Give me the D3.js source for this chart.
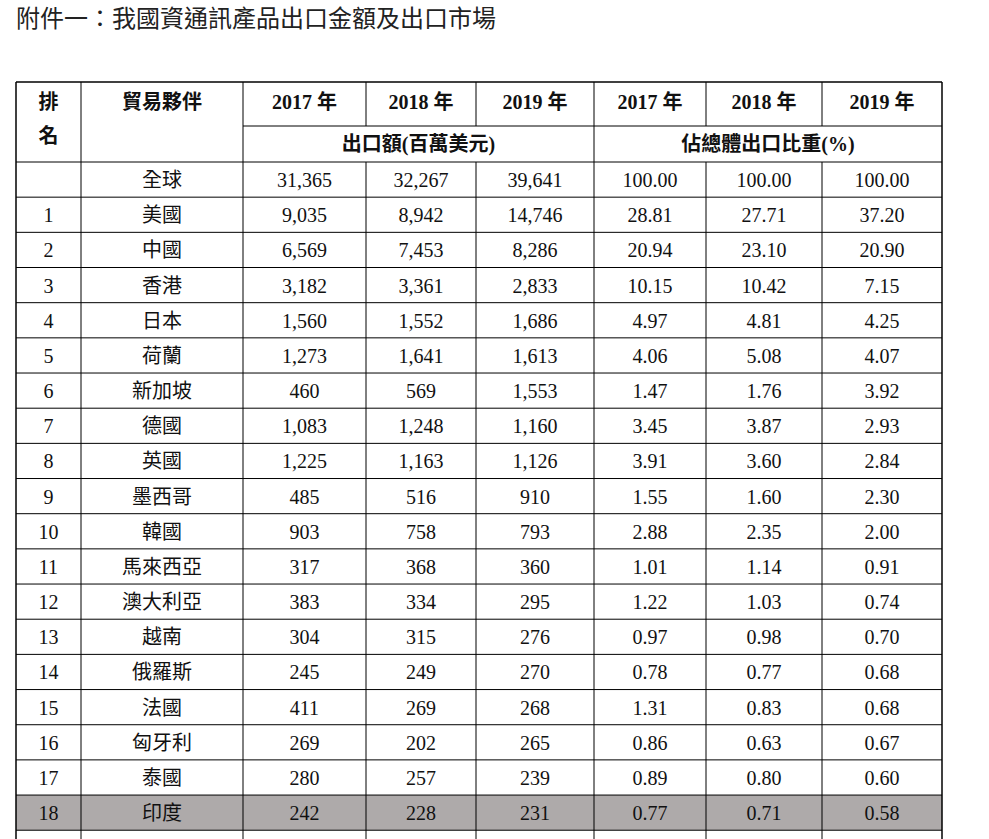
<!DOCTYPE html><html><head><meta charset="utf-8"><script src="https://cdn.jsdelivr.net/npm/d3@7"></script>
<style>body{margin:0;background:#fff}</style></head><body><script>
const title="附件一：我國資通訊產品出口金額及出口市場";
const years=["2017 年","2018 年","2019 年"];
const partners=["全球","美國","中國","香港","日本","荷蘭","新加坡","德國","英國","墨西哥","韓國","馬來西亞","澳大利亞","越南","俄羅斯","法國","匈牙利","泰國","印度"];
const ranks=["","1","2","3","4","5","6","7","8","9","10","11","12","13","14","15","16","17","18"];
const v2017=["31,365","9,035","6,569","3,182","1,560","1,273","460","1,083","1,225","485","903","317","383","304","245","411","269","280","242"];
const v2018=["32,267","8,942","7,453","3,361","1,552","1,641","569","1,248","1,163","516","758","368","334","315","249","269","202","257","228"];
const v2019=["39,641","14,746","8,286","2,833","1,686","1,613","1,553","1,160","1,126","910","793","360","295","276","270","268","265","239","231"];
const s2017=["100.00","28.81","20.94","10.15","4.97","4.06","1.47","3.45","3.91","1.55","2.88","1.01","1.22","0.97","0.78","1.31","0.86","0.89","0.77"];
const s2018=["100.00","27.71","23.10","10.42","4.81","5.08","1.76","3.87","3.60","1.60","2.35","1.14","1.03","0.98","0.77","0.83","0.63","0.80","0.71"];
const s2019=["100.00","37.20","20.90","7.15","4.25","4.07","3.92","2.93","2.84","2.30","2.00","0.91","0.74","0.70","0.68","0.68","0.67","0.60","0.58"];
const highlight="18";
const svg=d3.select("body").append("svg").attr("width",989).attr("height",839);
const cjk="'Noto Sans CJK TC','Liberation Serif',serif", ser="'Liberation Serif',serif";
svg.append("text").attr("x",16).attr("y",27).attr("font-family",cjk).attr("font-size",24).attr("fill","#222").text(title);
const xs=[16,81,243,366,476,594,706,822,942];
const tTop=82,h1=126,h2=162,r0=162,rh=35.17;
const nRows=partners.length;
const y=d3.scaleLinear().domain([0,1]).range([r0,r0+rh]);
const g=svg.append("g");
const hi=ranks.indexOf(highlight);
g.append("rect").attr("x",xs[0]).attr("y",y(hi)).attr("width",xs[8]-xs[0]).attr("height",rh).attr("fill","#aeaaaa");
const ln=(x1,y1,x2,y2,w)=>g.append("line").attr("x1",x1).attr("y1",y1).attr("x2",x2).attr("y2",y2).attr("stroke","#000").attr("stroke-width",w||1);
ln(xs[0],tTop,xs[8],tTop,1.5);
ln(xs[2],h1,xs[8],h1);
const bottom=839;
for(let i=0;i<=nRows;i++) ln(xs[0],y(i),xs[8],y(i));
xs.forEach((x,i)=>{ if(i===3||i===4||i===6||i===7){ln(x,tTop,x,h1);ln(x,h2,x,bottom);} else ln(x,tTop,x,bottom,i===0||i===8?1.5:1);});
const cx=i=>(xs[i]+xs[i+1])/2;
const T=(x,yy,t,f,b)=>g.append("text").attr("x",x).attr("y",yy).attr("text-anchor","middle").attr("font-family",f).attr("font-size",20).attr("font-weight",b?"bold":"normal").attr("fill","#111").text(t);
T(cx(0),109,"排",cjk,true);T(cx(0),143,"名",cjk,true);
T(cx(1),109,"貿易夥伴",cjk,true);
years.concat(years).forEach((t,i)=>T(cx(i+2),109,t,"'Liberation Serif','Noto Sans CJK TC'",true));
T((xs[2]+xs[5])/2,151,"出口額(百萬美元)","'Liberation Serif','Noto Sans CJK TC'",true);
T((xs[5]+xs[8])/2,151,"佔總體出口比重(%)","'Liberation Serif','Noto Sans CJK TC'",true);
const cols=[ranks,partners,v2017,v2018,v2019,s2017,s2018,s2019];
cols.forEach((col,c)=>col.forEach((t,i)=>T(cx(c),y(i)+25,t,c===1?cjk:ser,false)));
</script></body></html>
